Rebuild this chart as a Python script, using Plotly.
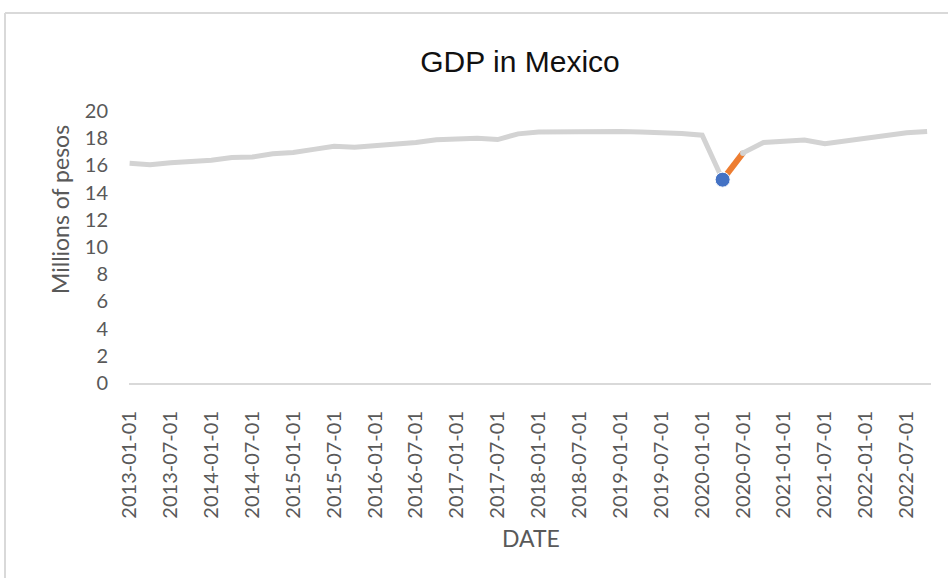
import plotly.graph_objects as go

# Quarterly GDP of Mexico (millions of pesos, scaled), 2013-Q1 .. 2022-Q4
dates = [
    "2013-01-01", "2013-04-01", "2013-07-01", "2013-10-01",
    "2014-01-01", "2014-04-01", "2014-07-01", "2014-10-01",
    "2015-01-01", "2015-04-01", "2015-07-01", "2015-10-01",
    "2016-01-01", "2016-04-01", "2016-07-01", "2016-10-01",
    "2017-01-01", "2017-04-01", "2017-07-01", "2017-10-01",
    "2018-01-01", "2018-04-01", "2018-07-01", "2018-10-01",
    "2019-01-01", "2019-04-01", "2019-07-01", "2019-10-01",
    "2020-01-01", "2020-04-01", "2020-07-01", "2020-10-01",
    "2021-01-01", "2021-04-01", "2021-07-01", "2021-10-01",
    "2022-01-01", "2022-04-01", "2022-07-01", "2022-10-01",
]
gdp = [
    16.15, 16.05, 16.20, 16.28, 16.38, 16.58, 16.62, 16.85,
    16.95, 17.18, 17.40, 17.33, 17.42, 17.52, 17.68, 17.88,
    17.97, 18.00, 17.90, 18.32, 18.45, 18.47, 18.50, 18.50,
    18.50, 18.45, 18.44, 18.35, 18.22, 14.95, 16.92, 17.68,
    17.78, 17.87, 17.60, 17.80, 18.00, 18.22, 18.40, 18.50,
]

# Highlighted pandemic trough and the rebound quarter that follows it
trough_idx = 29
rebound_idx = 30
tick_dates = dates[::2]
y_ticks = list(range(0, 21, 2))

GRAY = "#d3d3d3"
ORANGE = "#ed7d31"
BLUE = "#4472c4"
TEXT = "#595959"
TICK_FONT = dict(family="Lato", size=20, color=TEXT)

fig = go.Figure()

# Main series
fig.add_trace(go.Scatter(
    x=dates, y=gdp, mode="lines",
    line=dict(color=GRAY, width=5),
    hoverinfo="skip", showlegend=False,
))

# Rebound segment
fig.add_trace(go.Scatter(
    x=dates[trough_idx:rebound_idx + 1], y=gdp[trough_idx:rebound_idx + 1],
    mode="lines", line=dict(color=ORANGE, width=6),
    showlegend=False,
))

# Rounded start of the recovery section
fig.add_trace(go.Scatter(
    x=[dates[rebound_idx]], y=[gdp[rebound_idx]], mode="markers",
    marker=dict(color=GRAY, size=6, line=dict(width=0)),
    showlegend=False,
))

# Trough marker
fig.add_trace(go.Scatter(
    x=[dates[trough_idx]], y=[gdp[trough_idx]], mode="markers",
    marker=dict(color=BLUE, size=15, line=dict(color="white", width=1)),
    showlegend=False,
))

# Pixel helpers for the fixed-size layout
L, R, T, B = 129, 17, 111, 195
W, H = 948, 578
PW, PH = W - L - R, H - T - B


def px_x(px):
    return (px - L) / PW


def px_y(py):
    return (H - B - py) / PH


frame = dict(color="#d9d9d9", width=2)
shapes = [
    dict(type="line", xref="paper", yref="paper",
         x0=px_x(5), x1=px_x(W + 5), y0=px_y(13), y1=px_y(13), line=frame),
    dict(type="line", xref="paper", yref="paper",
         x0=px_x(5), x1=px_x(5), y0=px_y(13), y1=px_y(H + 5), line=frame),
]

annotations = [
    dict(text="Millions of pesos", xref="paper", yref="paper",
         x=px_x(60), y=px_y(210), textangle=-90, showarrow=False,
         xanchor="center", yanchor="middle",
         font=dict(family="Lato", size=23, color=TEXT)),
    dict(text="DATE", xref="paper", yref="paper",
         x=px_x(531), y=px_y(538), showarrow=False,
         xanchor="center", yanchor="middle",
         font=dict(family="Lato", size=23, color=TEXT)),
]

fig.update_layout(
    width=W, height=H,
    margin=dict(l=L, r=R, t=T, b=B, pad=0),
    paper_bgcolor="white", plot_bgcolor="white",
    title=dict(text="GDP in Mexico", xref="container", yref="container",
               x=520 / W, y=1 - 61 / H, xanchor="center", yanchor="middle",
               font=dict(family="Liberation Sans", size=30, color="#111111")),
    shapes=shapes,
    annotations=annotations,
    showlegend=False,
)

fig.update_xaxes(
    type="category", range=[-0.03, 39.19],
    tickmode="array", tickvals=tick_dates, ticktext=tick_dates,
    tickangle=-90, tickfont=TICK_FONT, ticklabelstandoff=18,
    showgrid=False, zeroline=False,
    showline=True, linecolor="#d9d9d9", linewidth=2,
    ticks="",
)

fig.update_yaxes(
    range=[0, 20], tickmode="array", tickvals=y_ticks,
    tickfont=TICK_FONT, ticklabelstandoff=20,
    showgrid=False, zeroline=False, showline=False, ticks="",
)

fig.write_html("out.html")
